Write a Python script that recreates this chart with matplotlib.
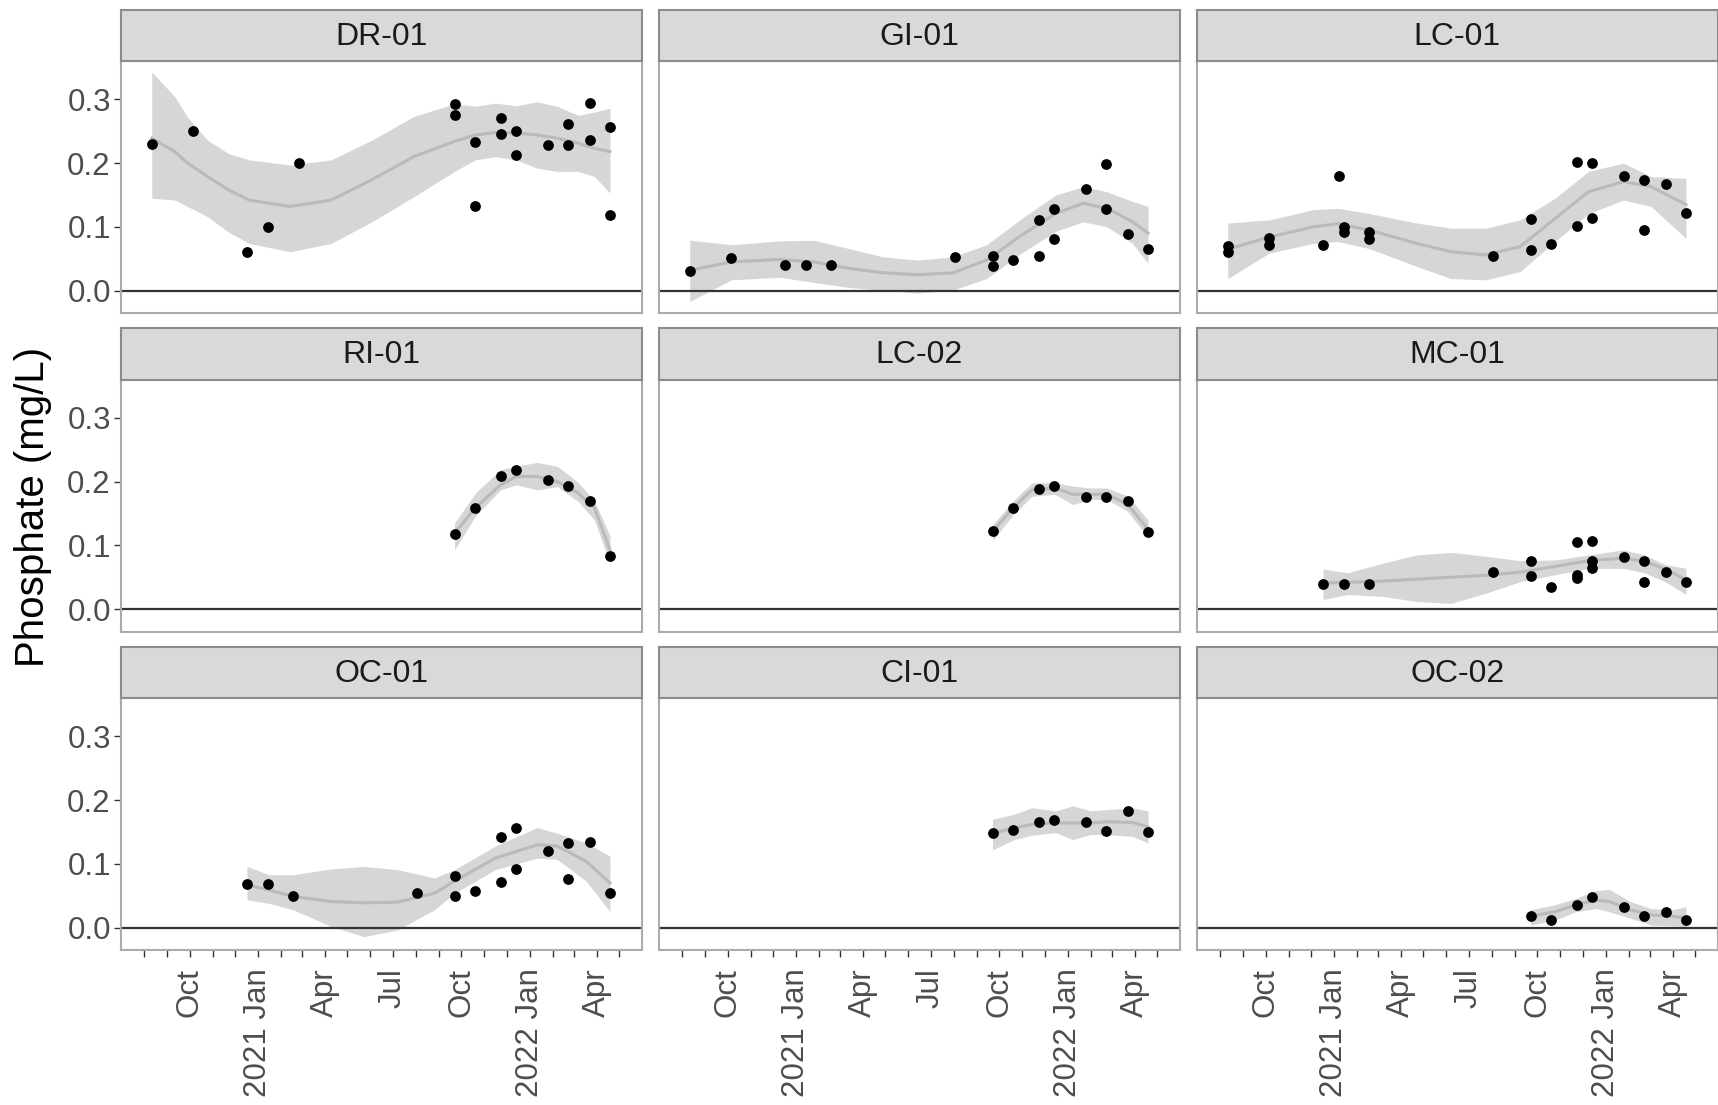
import pandas as pd
import matplotlib
matplotlib.use("Agg")
import matplotlib.pyplot as plt

plt.rcParams['font.family'] = ['Liberation Sans', 'DejaVu Sans']

sites = ["DR-01", "GI-01", "LC-01", "RI-01", "LC-02", "MC-01", "OC-01", "CI-01", "OC-02"]

# sampling dates shared by the newer sites
late_dates = ["2021-09-22", "2021-10-20", "2021-11-23", "2021-12-14",
              "2022-01-25", "2022-02-22", "2022-03-23", "2022-04-19"]

# ---- DR-01
dr01_dates = ["2020-08-11", "2020-10-06", "2020-12-17", "2021-01-14", "2021-02-25",
              "2021-09-22", "2021-09-22", "2021-10-20", "2021-10-20", "2021-11-23",
              "2021-11-23", "2021-12-14", "2021-12-14", "2022-01-25", "2022-02-22",
              "2022-02-22", "2022-03-23", "2022-03-23", "2022-04-19", "2022-04-19"]
dr01_po4 = [0.230, 0.250, 0.060, 0.100, 0.200, 0.292, 0.275, 0.233, 0.132, 0.271,
            0.245, 0.251, 0.213, 0.228, 0.261, 0.228, 0.294, 0.236, 0.257, 0.118]
dr01_sm_dates = ["2020-08-11", "2020-09-11", "2020-09-28", "2020-10-25", "2020-11-22",
                 "2020-12-20", "2021-02-13", "2021-04-09", "2021-06-03", "2021-07-29",
                 "2021-09-22", "2021-10-20", "2021-11-16", "2021-12-14", "2022-01-11",
                 "2022-02-07", "2022-03-07", "2022-03-29", "2022-04-19"]
dr01_fit = [0.239, 0.218, 0.200, 0.179, 0.158, 0.142, 0.132, 0.142, 0.174, 0.210,
            0.234, 0.244, 0.248, 0.247, 0.244, 0.239, 0.231, 0.223, 0.218]
dr01_hi = [0.343, 0.304, 0.272, 0.236, 0.215, 0.205, 0.197, 0.205, 0.236, 0.273,
           0.293, 0.289, 0.294, 0.290, 0.296, 0.289, 0.275, 0.280, 0.286]
dr01_lo = [0.145, 0.142, 0.132, 0.116, 0.092, 0.074, 0.061, 0.074, 0.108, 0.147,
           0.187, 0.205, 0.210, 0.205, 0.192, 0.187, 0.187, 0.179, 0.153]

# ---- GI-01
gi01_dates = ["2020-08-11", "2020-10-06", "2020-12-17", "2021-01-14", "2021-02-17",
              "2021-08-03", "2021-09-22", "2021-09-22", "2021-10-20", "2021-11-23",
              "2021-11-23", "2021-12-14", "2021-12-14", "2022-01-25", "2022-02-22",
              "2022-02-22", "2022-03-23", "2022-04-19"]
gi01_po4 = [0.031, 0.051, 0.040, 0.040, 0.040, 0.052, 0.054, 0.039, 0.048, 0.054,
            0.111, 0.081, 0.128, 0.159, 0.199, 0.128, 0.089, 0.065]
gi01_sm_dates = ["2020-08-11", "2020-10-06", "2020-12-10", "2021-01-25", "2021-03-13",
                 "2021-04-28", "2021-06-13", "2021-07-31", "2021-09-14", "2021-10-31",
                 "2021-12-16", "2022-01-22", "2022-02-23", "2022-03-29", "2022-04-19"]
gi01_fit = [0.032, 0.045, 0.049, 0.045, 0.035, 0.028, 0.025, 0.028, 0.048, 0.087,
            0.121, 0.137, 0.129, 0.108, 0.090]
gi01_hi = [0.079, 0.072, 0.078, 0.079, 0.066, 0.053, 0.048, 0.053, 0.072, 0.113,
           0.150, 0.163, 0.155, 0.140, 0.132]
gi01_lo = [-0.017, 0.017, 0.021, 0.013, 0.005, 0.001, -0.004, 0.001, 0.019, 0.059,
           0.093, 0.108, 0.100, 0.074, 0.043]

# ---- LC-01
lc01_dates = ["2020-08-11", "2020-08-11", "2020-10-06", "2020-10-06", "2020-12-17",
              "2021-01-07", "2021-01-14", "2021-01-14", "2021-02-17", "2021-02-17",
              "2021-08-03", "2021-09-22", "2021-09-22", "2021-10-20", "2021-11-23",
              "2021-11-23", "2021-12-14", "2021-12-14", "2022-01-25", "2022-02-22",
              "2022-02-22", "2022-03-23", "2022-04-19"]
lc01_po4 = [0.070, 0.061, 0.082, 0.071, 0.071, 0.180, 0.100, 0.092, 0.092, 0.081,
            0.054, 0.112, 0.064, 0.073, 0.202, 0.101, 0.200, 0.114, 0.180, 0.173,
            0.095, 0.167, 0.121]
lc01_sm_dates = ["2020-08-11", "2020-10-06", "2020-12-04", "2021-01-06", "2021-02-17",
                 "2021-04-22", "2021-06-07", "2021-07-24", "2021-09-08", "2021-10-25",
                 "2021-12-09", "2022-01-25", "2022-03-03", "2022-04-19"]
lc01_fit = [0.065, 0.084, 0.100, 0.105, 0.095, 0.074, 0.061, 0.056, 0.069, 0.113,
            0.155, 0.171, 0.163, 0.135]
lc01_hi = [0.106, 0.111, 0.127, 0.129, 0.121, 0.106, 0.098, 0.098, 0.111, 0.145,
           0.187, 0.200, 0.179, 0.176]
lc01_lo = [0.019, 0.059, 0.074, 0.077, 0.066, 0.038, 0.019, 0.017, 0.030, 0.077,
           0.121, 0.142, 0.132, 0.082]

# ---- RI-01
ri01_po4 = [0.118, 0.158, 0.209, 0.218, 0.202, 0.193, 0.170, 0.084]
ri01_sm_dates = ["2021-09-22", "2021-10-20", "2021-11-23", "2021-12-14", "2022-01-11",
                 "2022-02-07", "2022-03-07", "2022-03-29", "2022-04-19"]
ri01_fit = [0.119, 0.159, 0.195, 0.208, 0.208, 0.200, 0.182, 0.159, 0.093]
ri01_hi = [0.135, 0.182, 0.219, 0.224, 0.230, 0.224, 0.199, 0.170, 0.115]
ri01_lo = [0.093, 0.146, 0.187, 0.195, 0.187, 0.192, 0.169, 0.140, 0.072]

# ---- LC-02
lc02_po4 = [0.122, 0.158, 0.189, 0.193, 0.176, 0.176, 0.170, 0.121]
lc02_sm_dates = ["2021-09-22", "2021-10-20", "2021-11-14", "2021-12-15", "2022-01-08",
                 "2022-02-01", "2022-02-23", "2022-03-23", "2022-04-19"]
lc02_fit = [0.122, 0.159, 0.187, 0.190, 0.180, 0.180, 0.180, 0.164, 0.125]
lc02_hi = [0.132, 0.170, 0.198, 0.198, 0.193, 0.190, 0.190, 0.177, 0.140]
lc02_lo = [0.108, 0.148, 0.177, 0.180, 0.164, 0.172, 0.172, 0.153, 0.112]

# ---- MC-01
mc01_dates = ["2020-12-17", "2021-01-14", "2021-02-17", "2021-08-03", "2021-09-22",
              "2021-09-22", "2021-10-20", "2021-11-23", "2021-11-23", "2021-11-23",
              "2021-12-14", "2021-12-14", "2021-12-14", "2022-01-25", "2022-02-22",
              "2022-02-22", "2022-03-23", "2022-04-19"]
mc01_po4 = [0.040, 0.040, 0.040, 0.058, 0.076, 0.052, 0.034, 0.105, 0.054, 0.049,
            0.107, 0.075, 0.064, 0.081, 0.075, 0.042, 0.059, 0.043]
mc01_sm_dates = ["2020-12-17", "2021-01-19", "2021-03-07", "2021-04-22", "2021-06-07",
                 "2021-07-24", "2021-09-08", "2021-10-25", "2021-12-09", "2022-01-25",
                 "2022-02-22", "2022-03-22", "2022-04-19"]
mc01_fit = [0.041, 0.042, 0.044, 0.047, 0.050, 0.053, 0.058, 0.067, 0.076, 0.080,
            0.075, 0.063, 0.046]
mc01_hi = [0.063, 0.057, 0.072, 0.085, 0.089, 0.083, 0.076, 0.077, 0.085, 0.093,
           0.085, 0.070, 0.064]
mc01_lo = [0.015, 0.023, 0.020, 0.012, 0.009, 0.025, 0.043, 0.054, 0.064, 0.064,
           0.057, 0.043, 0.023]

# ---- OC-01
oc01_dates = ["2020-12-17", "2021-01-14", "2021-02-17", "2021-08-03", "2021-09-22",
              "2021-09-22", "2021-10-20", "2021-11-23", "2021-11-23", "2021-12-14",
              "2021-12-14", "2022-01-25", "2022-02-22", "2022-02-22", "2022-03-23",
              "2022-04-19"]
oc01_po4 = [0.068, 0.068, 0.049, 0.055, 0.081, 0.050, 0.058, 0.142, 0.071, 0.156,
            0.092, 0.120, 0.133, 0.077, 0.134, 0.054]
oc01_sm_dates = ["2020-12-17", "2021-01-16", "2021-02-17", "2021-04-09", "2021-05-23",
                 "2021-07-07", "2021-08-26", "2021-09-22", "2021-11-16", "2022-01-11",
                 "2022-02-07", "2022-03-18", "2022-04-19"]
oc01_fit = [0.067, 0.059, 0.049, 0.041, 0.039, 0.040, 0.054, 0.073, 0.109, 0.130,
            0.128, 0.104, 0.070]
oc01_hi = [0.096, 0.083, 0.083, 0.092, 0.096, 0.091, 0.078, 0.091, 0.128, 0.157,
           0.148, 0.133, 0.112]
oc01_lo = [0.044, 0.038, 0.028, 0.002, -0.014, -0.004, 0.028, 0.054, 0.091, 0.109,
           0.107, 0.073, 0.025]

# ---- CI-01
ci01_po4 = [0.148, 0.153, 0.166, 0.169, 0.166, 0.152, 0.183, 0.150]
ci01_sm_dates = ["2021-09-22", "2021-10-21", "2021-11-14", "2021-12-16", "2022-01-08",
                 "2022-02-01", "2022-02-23", "2022-03-29", "2022-04-19"]
ci01_fit = [0.148, 0.156, 0.162, 0.164, 0.164, 0.164, 0.166, 0.165, 0.158]
ci01_hi = [0.170, 0.178, 0.188, 0.183, 0.191, 0.183, 0.185, 0.188, 0.183]
ci01_lo = [0.122, 0.138, 0.145, 0.149, 0.138, 0.146, 0.146, 0.143, 0.133]

# ---- OC-02
oc02_po4 = [0.019, 0.012, 0.035, 0.048, 0.032, 0.018, 0.025, 0.012]
oc02_sm_dates = ["2021-09-22", "2021-10-25", "2021-11-22", "2021-12-18", "2022-01-06",
                 "2022-02-03", "2022-03-03", "2022-03-31", "2022-04-19"]
oc02_fit = [0.018, 0.025, 0.036, 0.043, 0.041, 0.028, 0.020, 0.018, 0.015]
oc02_hi = [0.028, 0.036, 0.046, 0.058, 0.060, 0.041, 0.030, 0.028, 0.033]
oc02_lo = [0.004, 0.012, 0.025, 0.030, 0.025, 0.015, 0.004, 0.003, 0.002]

panels = {
    "DR-01": (dr01_dates, dr01_po4, dr01_sm_dates, dr01_fit, dr01_lo, dr01_hi),
    "GI-01": (gi01_dates, gi01_po4, gi01_sm_dates, gi01_fit, gi01_lo, gi01_hi),
    "LC-01": (lc01_dates, lc01_po4, lc01_sm_dates, lc01_fit, lc01_lo, lc01_hi),
    "RI-01": (late_dates, ri01_po4, ri01_sm_dates, ri01_fit, ri01_lo, ri01_hi),
    "LC-02": (late_dates, lc02_po4, lc02_sm_dates, lc02_fit, lc02_lo, lc02_hi),
    "MC-01": (mc01_dates, mc01_po4, mc01_sm_dates, mc01_fit, mc01_lo, mc01_hi),
    "OC-01": (oc01_dates, oc01_po4, oc01_sm_dates, oc01_fit, oc01_lo, oc01_hi),
    "CI-01": (late_dates, ci01_po4, ci01_sm_dates, ci01_fit, ci01_lo, ci01_hi),
    "OC-02": (late_dates, oc02_po4, oc02_sm_dates, oc02_fit, oc02_lo, oc02_hi),
}

tick_months = pd.date_range("2020-08-01", "2022-05-01", freq="MS")
tick_labels = ["", "", "Oct", "", "", "2021 Jan", "", "", "Apr", "", "", "Jul",
               "", "", "Oct", "", "", "2022 Jan", "", "", "Apr", ""]
y_ticks = [0.0, 0.1, 0.2, 0.3]
x_lim = (pd.Timestamp("2020-06-30"), pd.Timestamp("2022-06-01"))

W, H = 1718, 1105
fig = plt.figure(figsize=(W / 100, H / 100), dpi=100)

border = "#ABABAB"
for i, site in enumerate(sites):
    r, c = divmod(i, 3)
    x0 = 120.5 + 538 * c
    top = 61 + 318.5 * r
    ax = fig.add_axes([x0 / W, 1 - (top + 252) / H, 521.5 / W, 252 / H])
    sax = fig.add_axes([x0 / W, 1 - top / H, 521.5 / W, 51.5 / H])

    d, v, sd, fit, lo, hi = panels[site]
    d = pd.to_datetime(d)
    sd = pd.to_datetime(sd)

    ax.fill_between(sd, lo, hi, color="#999999", alpha=0.4, lw=0, zorder=1)
    ax.plot(sd, fit, color="#BABABA", lw=2.2, zorder=2, solid_joinstyle="round")
    ax.axhline(0, color="#333333", lw=1.6, zorder=2.5)
    ax.scatter(d, v, s=60, color="black", lw=0, zorder=3)

    ax.set_xlim(*x_lim)
    ax.set_ylim(-0.035, 0.36)
    ax.set_xticks(tick_months)
    ax.set_yticks(y_ticks)
    ax.tick_params(length=5, width=1, color="#333333", labelsize=22.5,
                   labelcolor="#4D4D4D", pad=2)
    if c == 0:
        ax.set_yticklabels([f"{t:.1f}" for t in y_ticks])
    else:
        ax.tick_params(axis="y", length=0, labelleft=False)
    if r == 2:
        ax.set_xticklabels(tick_labels, rotation=90, ha="center", va="top")
        ax.tick_params(axis="x", pad=8)
    else:
        ax.tick_params(axis="x", length=0, labelbottom=False)
    for sp in ax.spines.values():
        sp.set_color(border)
        sp.set_linewidth(1.5)

    sax.set_facecolor("#D9D9D9")
    sax.set_xticks([])
    sax.set_yticks([])
    for sp in sax.spines.values():
        sp.set_color("#8C8C8C")
        sp.set_linewidth(1.5)
    sax.text(0.5, 0.47, site, transform=sax.transAxes, ha="center", va="center",
             fontsize=23, color="#1A1A1A")

fig.text(33 / W, 1 - 507 / H, "Phosphate (mg/L)", rotation=90, ha="center",
         va="center", fontsize=29, color="black")

fig.savefig("out.png", dpi=100, facecolor="white")
